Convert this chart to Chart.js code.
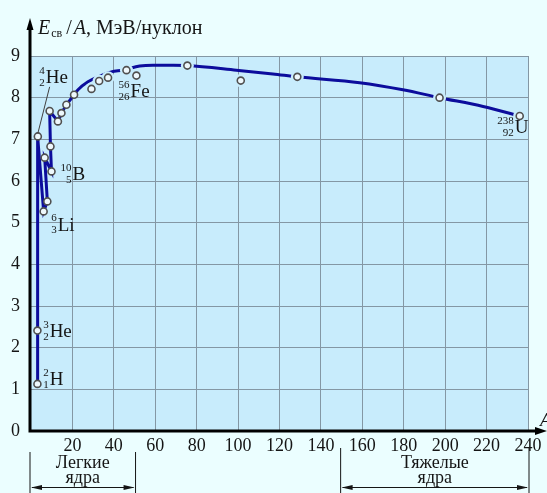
<!DOCTYPE html>
<html>
<head>
<meta charset="utf-8">
<script src="https://cdn.jsdelivr.net/npm/chart.js@4.4.0/dist/chart.umd.min.js"></script>
<style>
  html, body { margin: 0; padding: 0; background: #ebfeff; }
  canvas { display: block; }
</style>
</head>
<body>
<canvas id="bindingChart" width="547" height="493"></canvas>
<script>
// binding energy per nucleon (A = mass number, E in MeV)
// light nuclei joined by the broken line: 2H, 3He, 4He, 6Li, 7Li, 9Be, 10B, 11B, 12C, 14N, .., 16O
const lightA = [3.1, 3.1, 3.3, 6.1, 7.9, 6.6, 9.9, 9.4, 9.0, 13.0, 14.7, 17.1, 20.8];
const lightE = [1.13, 2.41, 7.07, 5.27, 5.51, 6.56, 6.23, 6.83, 7.68, 7.43, 7.63, 7.83, 8.07];

// smooth curve through the heavier nuclei
const curveA = [20.8, 22.7, 27.5, 32.4, 38.8, 44.4, 52.5, 58.9, 68.6, 75.5, 99.2, 116.8, 128.6, 158.7, 179.6, 197.3, 218.3, 236.0];
const curveE = [8.07, 8.19, 8.38, 8.50, 8.62, 8.66, 8.76, 8.78, 8.78, 8.77, 8.66, 8.57, 8.50, 8.36, 8.19, 8.00, 7.79, 7.56];

// measured points around the curve (open circles)
const sideA = [29.2, 32.9, 37.2, 46.1, 50.9, 75.5, 101.3, 128.6, 197.3, 236.0];
const sideE = [8.21, 8.40, 8.48, 8.66, 8.53, 8.77, 8.41, 8.50, 8.00, 7.56];

const xTicks = [20, 40, 60, 80, 100, 120, 140, 160, 180, 200, 220, 240];
const yTicks = [0, 1, 2, 3, 4, 5, 6, 7, 8, 9];

const lightRange = [0, 50];
const heavyRange = [150, 240];
const lightName = ['Легкие', 'ядра'];
const heavyName = ['Тяжелые', 'ядра'];

// nuclide labels: mass, charge, symbol
const nuclides = [
  ['4', '2', 'He'], ['3', '2', 'He'], ['2', '1', 'H'], ['6', '3', 'Li'],
  ['10', '5', 'B'], ['56', '26', 'Fe'], ['238', '92', 'U']
];

const serif = "'Liberation Serif', 'DejaVu Serif', serif";
const pts = (xs, ys) => xs.map((x, i) => ({ x: x, y: ys[i] }));

function nuclide(ctx, x, y, mass, charge, sym) {
  ctx.fillStyle = '#151515';
  ctx.font = '19px ' + serif;
  ctx.textAlign = 'left';
  ctx.textBaseline = 'middle';
  ctx.fillText(sym, x, y);
  ctx.font = '11px ' + serif;
  ctx.textAlign = 'right';
  ctx.fillText(mass, x - 1, y - 7);
  ctx.fillText(charge, x - 1, y + 5);
}

function arrowHead(ctx, x, y, dx, dy, len, half) {
  // tip at (x,y), pointing along (dx,dy)
  ctx.beginPath();
  ctx.moveTo(x, y);
  ctx.lineTo(x - dx * len - dy * half, y - dy * len - dx * half);
  ctx.lineTo(x - dx * len + dy * half, y - dy * len + dx * half);
  ctx.closePath();
  ctx.fill();
}

const paper = {
  id: 'paper',
  beforeDraw(chart) {
    const { ctx, chartArea: a } = chart;
    ctx.save();
    ctx.fillStyle = '#ebfeff';
    ctx.fillRect(0, 0, chart.width, chart.height);
    ctx.fillStyle = '#c8ecfc';
    ctx.fillRect(a.left, a.top, a.right - a.left, a.bottom - a.top);
    ctx.restore();
  },
  afterDraw(chart) {
    const { ctx, chartArea: a } = chart;
    const sx = chart.scales.x, sy = chart.scales.y;
    const px = v => sx.getPixelForValue(v), py = v => sy.getPixelForValue(v);
    ctx.save();

    // axes with arrows
    ctx.strokeStyle = '#000';
    ctx.fillStyle = '#000';
    ctx.lineWidth = 3;
    ctx.beginPath();
    ctx.moveTo(a.left - 1, a.bottom + 1.5);
    ctx.lineTo(a.left - 1, 28);
    ctx.moveTo(a.left - 2.5, a.bottom);
    ctx.lineTo(538, a.bottom);
    ctx.stroke();
    arrowHead(ctx, a.left - 1, 18, 0, -1, 12, 3.5);
    arrowHead(ctx, 547, a.bottom, 1, 0, 12, 4);

    // axis names
    ctx.fillStyle = '#151515';
    ctx.textBaseline = 'alphabetic';
    ctx.textAlign = 'left';
    let x = 38;
    ctx.font = 'italic 20px ' + serif;
    ctx.fillText('E', x, 34);
    x += ctx.measureText('E').width + 1;
    ctx.font = '12px ' + serif;
    ctx.fillText('св', x, 37);
    x += ctx.measureText('св').width + 4;
    ctx.font = '20px ' + serif;
    ctx.fillText('/', x, 34);
    x += ctx.measureText('/').width + 2;
    ctx.font = 'italic 20px ' + serif;
    ctx.fillText('A', x, 34);
    x += ctx.measureText('A').width;
    ctx.font = '20px ' + serif;
    ctx.fillText(', МэВ/нуклон', x, 34);
    ctx.font = 'italic 19px ' + serif;
    ctx.fillText('A', 540, a.bottom - 5);

    // nuclide labels
    const spots = [[7.1, 8.47], [9.0, 2.38], [9.0, 1.23], [12.9, 4.93], [20.1, 6.15], [48.1, 8.14], [233.6, 7.27]];
    nuclides.forEach((n, i) => nuclide(ctx, px(spots[i][0]), py(spots[i][1]), n[0], n[1], n[2]));

    // leader from 4He point to its label
    ctx.strokeStyle = '#404040';
    ctx.lineWidth = 1;
    ctx.beginPath();
    ctx.moveTo(px(lightA[2]), py(lightE[2]) - 3);
    ctx.lineTo(px(9.0), py(8.26));
    ctx.stroke();

    // light / heavy nuclei brackets
    [[lightRange, lightName, 452], [heavyRange, heavyName, 448]].forEach(([r, name, top]) => {
      const x0 = px(r[0]) - 1, x1 = px(r[1]) + 1, mid = (x0 + x1) / 2;
      ctx.strokeStyle = '#151515';
      ctx.fillStyle = '#151515';
      ctx.lineWidth = 1;
      ctx.beginPath();
      ctx.moveTo(x0, top); ctx.lineTo(x0, 493);
      ctx.moveTo(x1, top); ctx.lineTo(x1, 493);
      ctx.moveTo(x0 + 2, 487.5); ctx.lineTo(x1 - 2, 487.5);
      ctx.stroke();
      arrowHead(ctx, x0 + 1, 487.5, -1, 0, 11, 2.5);
      arrowHead(ctx, x1 - 1, 487.5, 1, 0, 11, 2.5);
      ctx.font = '18px ' + serif;
      ctx.textAlign = 'center';
      ctx.textBaseline = 'middle';
      ctx.fillText(name[0], mid, 463);
      ctx.fillText(name[1], mid, 478);
    });
    ctx.restore();
  }
};

new Chart(document.getElementById('bindingChart'), {
  type: 'scatter',
  data: {
    datasets: [
      {
        // open circles
        data: pts(lightA.concat(sideA), lightE.concat(sideE)),
        pointRadius: 3.5,
        pointBorderWidth: 1.6,
        pointBorderColor: '#505050',
        pointBackgroundColor: '#eef8fc',
        showLine: false,
        order: 0
      },
      {
        // light halo that breaks the curve around the circles
        data: pts(sideA, sideE),
        pointRadius: 6.5,
        pointBorderWidth: 0,
        pointBackgroundColor: '#c8ecfc',
        showLine: false,
        order: 1
      },
      {
        data: pts(lightA, lightE),
        showLine: true,
        borderColor: '#0c0c9c',
        borderWidth: 3,
        pointRadius: 0,
        tension: 0,
        order: 2
      },
      {
        data: pts(curveA, curveE),
        showLine: true,
        borderColor: '#0c0c9c',
        borderWidth: 3,
        pointRadius: 0,
        cubicInterpolationMode: 'monotone',
        order: 2
      }
    ]
  },
  options: {
    responsive: false,
    animation: false,
    devicePixelRatio: 1,
    layout: { padding: { top: 56, right: 19, bottom: 0, left: 0 } },
    plugins: { legend: { display: false }, tooltip: { enabled: false } },
    scales: {
      x: {
        type: 'linear',
        min: 0,
        max: 240,
        afterBuildTicks: s => { s.ticks = xTicks.map(v => ({ value: v })); },
        afterFit: s => { s.height = 62; },
        border: { display: false },
        grid: { color: '#8497a4', lineWidth: 1, drawTicks: false },
        ticks: { padding: 4, color: '#151515', font: { family: serif, size: 18 }, maxRotation: 0 }
      },
      y: {
        type: 'linear',
        min: 0,
        max: 9,
        afterBuildTicks: s => { s.ticks = yTicks.map(v => ({ value: v })); },
        afterFit: s => { s.width = 31; },
        border: { display: false },
        grid: { color: '#8497a4', lineWidth: 1, drawTicks: false },
        ticks: { padding: 11, color: '#151515', font: { family: serif, size: 18 } }
      }
    }
  },
  plugins: [paper]
});
</script>
</body>
</html>
